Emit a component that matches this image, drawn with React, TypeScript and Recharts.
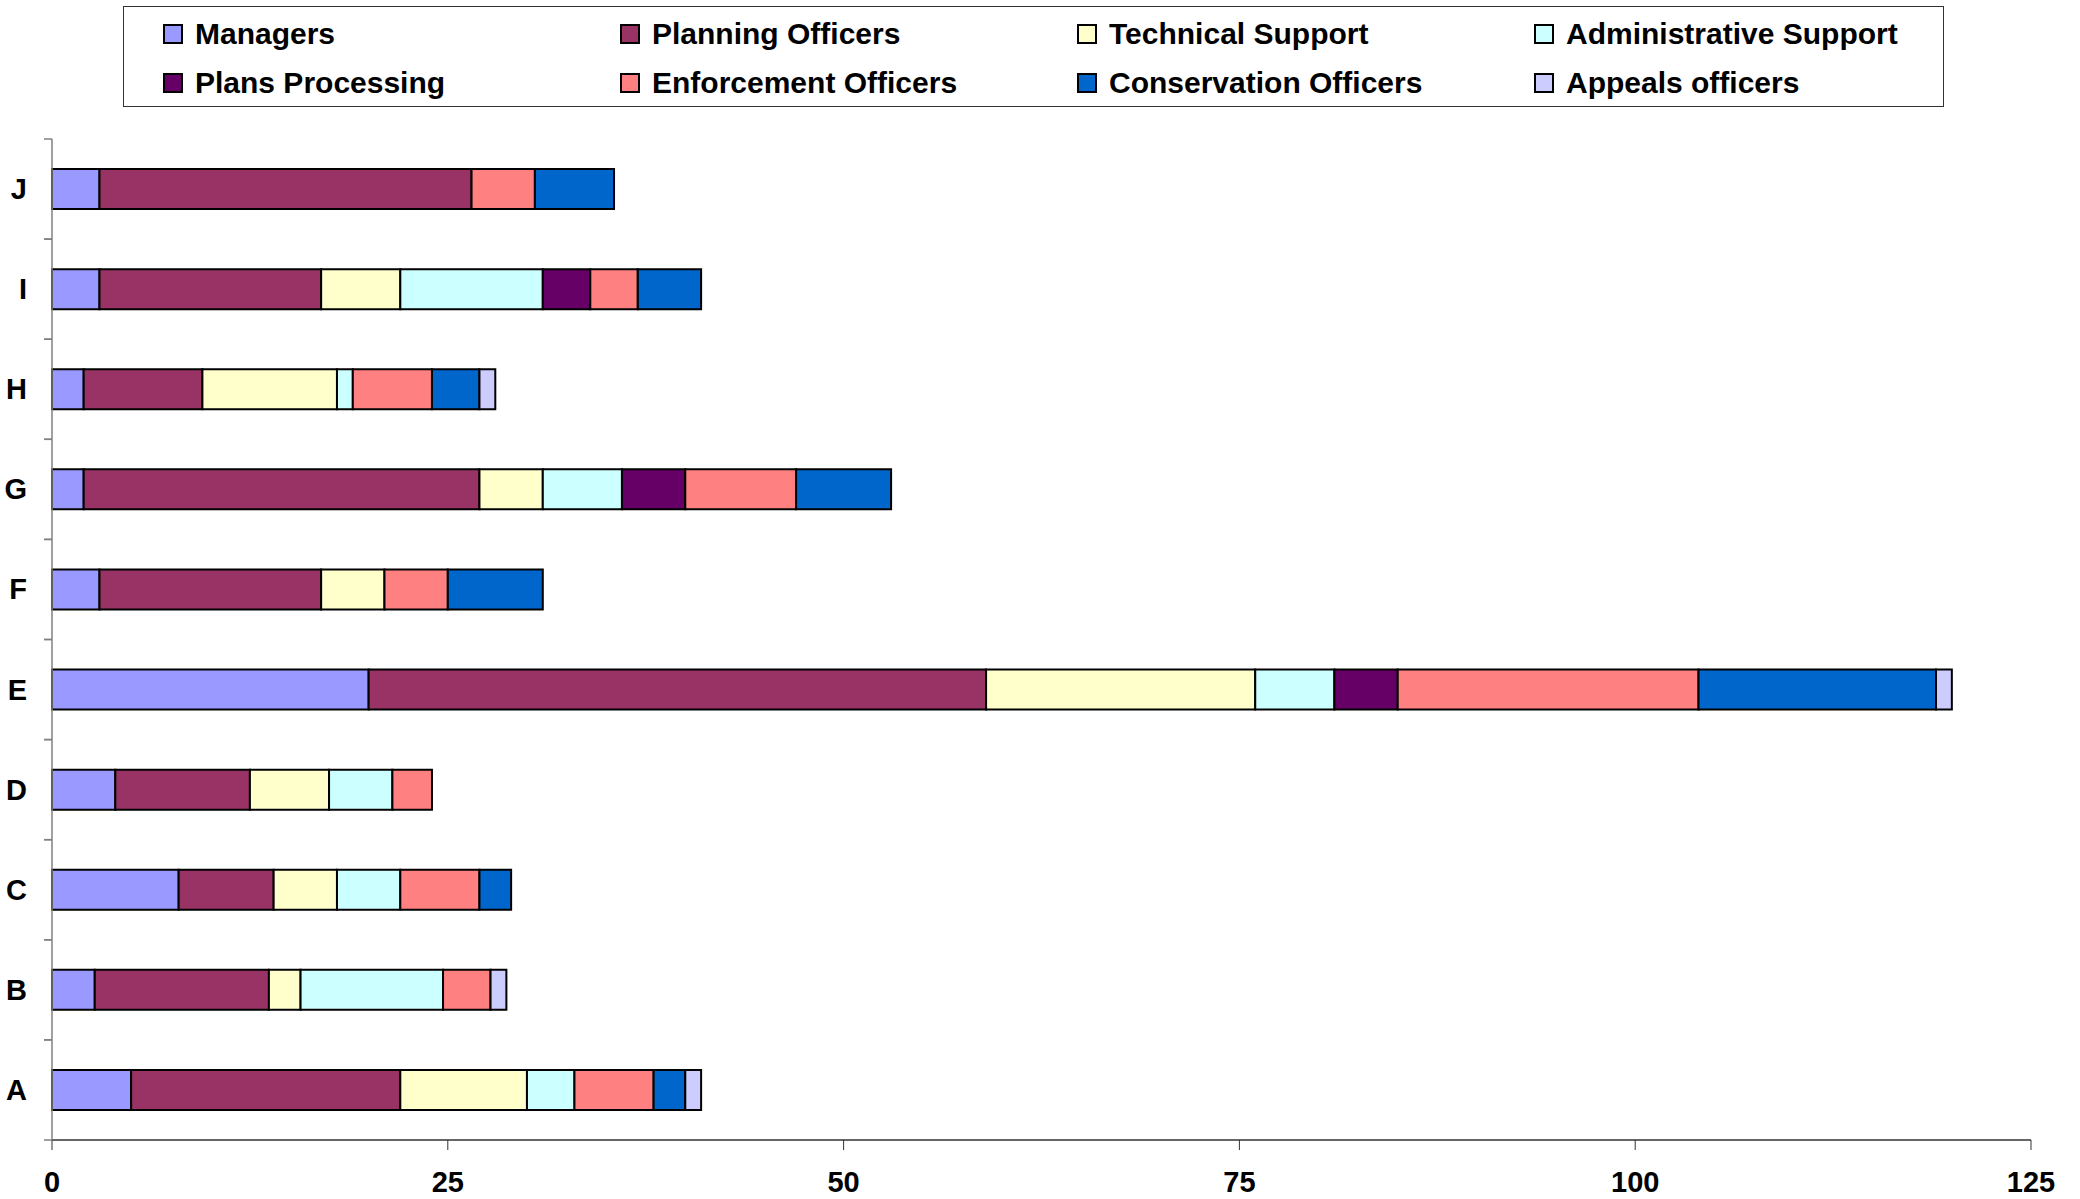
import React from 'react';
import { BarChart, Bar, XAxis, YAxis, Legend } from 'recharts';

const categories = ['A', 'B', 'C', 'D', 'E', 'F', 'G', 'H', 'I', 'J'];

const managers = [5, 2.7, 8, 4, 20, 3, 2, 2, 3, 3];
const planningOfficers = [17, 11, 6, 8.5, 39, 14, 25, 7.5, 14, 23.5];
const technicalSupport = [8, 2, 4, 5, 17, 4, 4, 8.5, 5, 0];
const adminSupport = [3, 9, 4, 4, 5, 0, 5, 1, 9, 0];
const plansProcessing = [0, 0, 0, 0, 4, 0, 4, 0, 3, 0];
const enforcementOfficers = [5, 3, 5, 2.5, 19, 4, 7, 5, 3, 4];
const conservationOfficers = [2, 0, 2, 0, 15, 6, 6, 3, 4, 5];
const appealsOfficers = [1, 1, 0, 0, 1, 0, 0, 1, 0, 0];

const xTicks = [0, 25, 50, 75, 100, 125];

const series = [
  { key: 'managers', name: 'Managers', values: managers, color: '#9999FF' },
  { key: 'planning', name: 'Planning Officers', values: planningOfficers, color: '#993366' },
  { key: 'technical', name: 'Technical Support', values: technicalSupport, color: '#FFFFCC' },
  { key: 'admin', name: 'Administrative Support', values: adminSupport, color: '#CCFFFF' },
  { key: 'plans', name: 'Plans Processing', values: plansProcessing, color: '#660066' },
  { key: 'enforcement', name: 'Enforcement Officers', values: enforcementOfficers, color: '#FF8080' },
  { key: 'conservation', name: 'Conservation Officers', values: conservationOfficers, color: '#0066CC' },
  { key: 'appeals', name: 'Appeals officers', values: appealsOfficers, color: '#CCCCFF' },
];

const data = categories.map((c, i) => {
  const row: Record<string, string | number> = { name: c };
  series.forEach((s) => {
    row[s.key] = s.values[i];
  });
  return row;
});

const WIDTH = 2080;
const HEIGHT = 1199;
const TOP = 139;
const LEGEND_H = 101;
const AXIS_W = 52;
const XAXIS_H = 59;
const PLOT_H = HEIGHT - TOP - XAXIS_H;
const BAND_HALF = PLOT_H / categories.length / 2;
const FONT = '"Liberation Sans", Arial, sans-serif';

const CategoryTick = (props: any) => {
  const { x, y, payload } = props;
  return (
    <g>
      <line x1={AXIS_W - 8} x2={AXIS_W} y1={y - BAND_HALF} y2={y - BAND_HALF} stroke="#808080" strokeWidth={1.5} />
      <line x1={AXIS_W - 8} x2={AXIS_W} y1={y + BAND_HALF} y2={y + BAND_HALF} stroke="#808080" strokeWidth={1.5} />
      <text
        x={x}
        y={y}
        textAnchor="end"
        dominantBaseline="central"
        fontFamily={FONT}
        fontWeight="bold"
        fontSize={29}
        fill="#000"
      >
        {payload.value}
      </text>
    </g>
  );
};

// keep the legend in series order (recharts sorts the payload by name)
const LegendBox = () => (
  <div
    style={{
      position: 'relative',
      width: 1821,
      height: LEGEND_H,
      border: '1.5px solid #333',
      boxSizing: 'border-box',
      background: '#fff',
      fontFamily: FONT,
      fontWeight: 'bold',
      fontSize: 30,
    }}
  >
    {series.map((s, i) => {
      const col = i % 4;
      const row = Math.floor(i / 4);
      return (
        <div
          key={s.key}
          style={{
            position: 'absolute',
            left: 39 + col * 457,
            top: row === 0 ? 8 : 57,
            height: 38,
            display: 'flex',
            alignItems: 'center',
            whiteSpace: 'nowrap',
            color: '#000',
          }}
        >
          <span
            style={{
              display: 'inline-block',
              width: 20,
              height: 20,
              boxSizing: 'border-box',
              background: s.color,
              border: '2px solid #000',
              marginRight: 12,
            }}
          />
          {s.name}
        </div>
      );
    })}
  </div>
);

export default function App() {
  return (
    <div style={{ position: 'absolute', left: 0, top: 0, width: WIDTH, height: HEIGHT, background: '#fff' }}>
      <BarChart
        width={WIDTH}
        height={HEIGHT}
        data={data}
        layout="vertical"
        margin={{ top: TOP - LEGEND_H, right: 49, bottom: 0, left: 0 }}
        barCategoryGap="30%"
      >
        <XAxis
          type="number"
          domain={[0, 125]}
          ticks={xTicks}
          interval={0}
          height={XAXIS_H}
          axisLine={{ stroke: '#333', strokeWidth: 1.5 }}
          tickLine={{ stroke: '#333', strokeWidth: 1 }}
          tickSize={10}
          tickMargin={21}
          tick={{ fontFamily: FONT, fontWeight: 'bold', fontSize: 29, fill: '#000' }}
        />
        <YAxis
          type="category"
          dataKey="name"
          reversed
          width={AXIS_W}
          axisLine={{ stroke: '#808080', strokeWidth: 1.5 }}
          tickLine={false}
          tickSize={8}
          tickMargin={17}
          tick={<CategoryTick />}
          interval={0}
        />
        <Legend
          verticalAlign="top"
          align="left"
          content={<LegendBox />}
          wrapperStyle={{ position: 'absolute', top: 6, left: 123, width: 1821, height: LEGEND_H }}
        />
        {series.map((s) => (
          <Bar
            key={s.key}
            dataKey={s.key}
            name={s.name}
            stackId="staff"
            fill={s.color}
            stroke="#000"
            strokeWidth={2}
            isAnimationActive={false}
          />
        ))}
      </BarChart>
    </div>
  );
}
